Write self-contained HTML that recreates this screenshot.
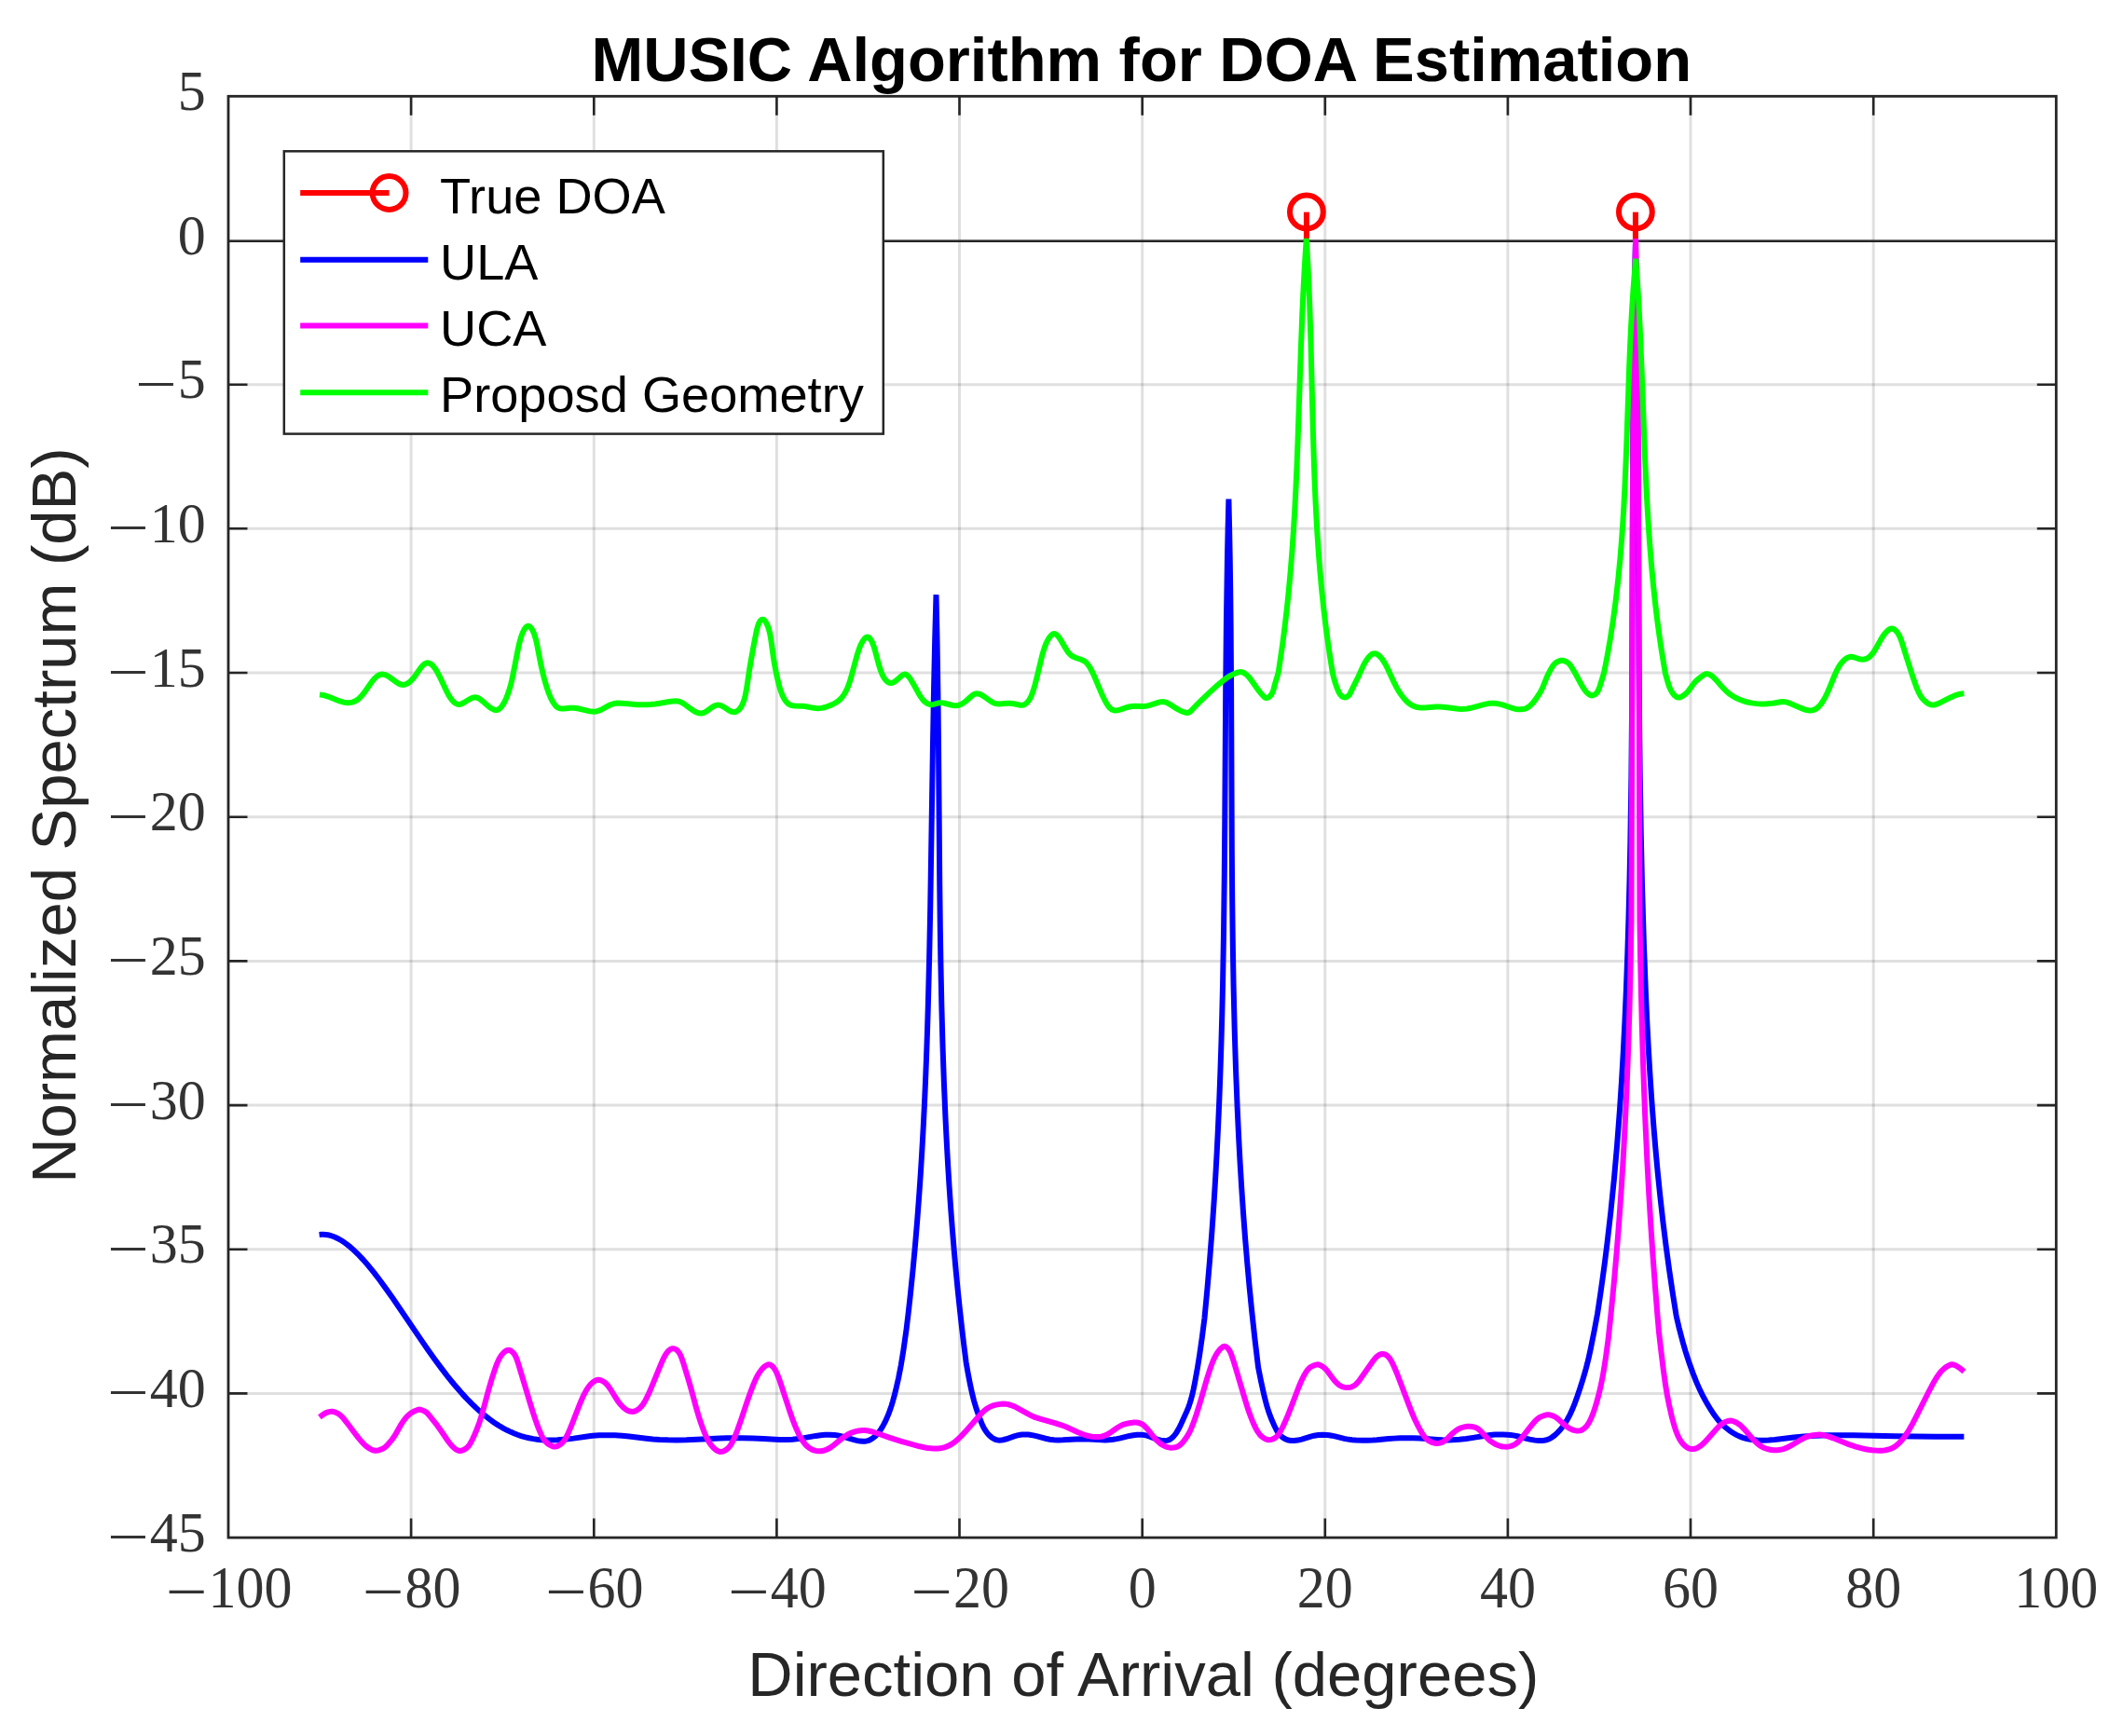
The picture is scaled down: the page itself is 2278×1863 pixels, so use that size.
<!DOCTYPE html>
<html><head><meta charset="utf-8"><title>MUSIC Algorithm for DOA Estimation</title>
<style>
html,body{margin:0;padding:0;background:#fff;}
svg{display:block;}
.sans{font-family:"Liberation Sans",sans-serif;}
.serif{font-family:"Liberation Serif",serif;}
</style></head><body>
<svg width="2278" height="1863" viewBox="0 0 2278 1863">
<rect width="2278" height="1863" fill="#fff"/>
<path d="M441.1,103.3V1650.1M637.3,103.3V1650.1M833.4,103.3V1650.1M1029.5,103.3V1650.1M1225.7,103.3V1650.1M1421.8,103.3V1650.1M1617.9,103.3V1650.1M1814.0,103.3V1650.1M2010.2,103.3V1650.1" stroke="#262626" stroke-opacity="0.14" stroke-width="3" fill="none"/>
<path d="M245.0,1495.4H2206.3M245.0,1340.7H2206.3M245.0,1186.1H2206.3M245.0,1031.4H2206.3M245.0,876.7H2206.3M245.0,722.0H2206.3M245.0,567.3H2206.3M245.0,412.7H2206.3M245.0,258.0H2206.3" stroke="#262626" stroke-opacity="0.14" stroke-width="3" fill="none"/>
<path d="M245.0,258.7H2206.3" stroke="#262626" stroke-width="2.6"/>
<path d="M1401.9,258.7V227.6" stroke="#f00" stroke-width="6.0"/>
<circle cx="1401.9" cy="227.4" r="17.9" stroke="#f00" stroke-width="6.0" fill="none"/>
<path d="M1754.9,258.7V227.6" stroke="#f00" stroke-width="6.0"/>
<circle cx="1754.9" cy="227.4" r="17.9" stroke="#f00" stroke-width="6.0" fill="none"/>
<path d="M342.60,1325.03L344.59,1324.83L347.25,1324.79L349.23,1324.93L351.87,1325.32L354.49,1325.93L357.08,1326.75L359.64,1327.76L362.16,1328.94L364.65,1330.28L367.10,1331.76L369.52,1333.37L372.50,1335.56L375.42,1337.91L378.30,1340.40L383.94,1345.78L389.43,1351.59L395.34,1358.38L401.65,1366.18L407.84,1374.29L414.45,1383.36L421.50,1393.35L451.82,1437.89L459.33,1448.69L465.89,1457.90L473.04,1467.60L480.28,1477.02L487.11,1485.47L494.06,1493.57L498.41,1498.37L502.25,1502.44L506.14,1506.38L510.07,1510.18L514.05,1513.84L517.51,1516.84L521.59,1520.19L525.12,1522.93L529.30,1525.95L532.92,1528.38L536.58,1530.67L540.28,1532.80L544.02,1534.78L547.80,1536.59L551.61,1538.24L555.45,1539.72L559.32,1541.02L563.87,1542.33L567.79,1543.27L572.39,1544.15L576.34,1544.73L580.97,1545.21L585.61,1545.48L590.24,1545.58L598.19,1545.35L607.46,1544.58L615.37,1543.62L633.67,1540.96L636.03,1540.70L642.83,1540.34L651.08,1540.22L659.88,1540.36L667.35,1540.79L675.22,1541.53L693.54,1543.71L700.55,1544.45L707.86,1545.00L716.78,1545.36L726.03,1545.45L736.40,1545.27L747.75,1544.80L772.70,1543.46L779.53,1543.23L787.49,1543.14L796.58,1543.20L807.96,1543.48L819.33,1543.95L836.26,1544.88L840.69,1545.01L845.06,1545.00L850.42,1544.74L856.65,1544.07L862.61,1543.16L875.34,1540.91L880.37,1540.19L885.24,1539.78L890.02,1539.70L895.60,1540.03L898.80,1540.44L901.21,1540.87L906.03,1542.04L915.42,1544.94L919.08,1545.94L922.61,1546.61L926.05,1546.85L928.08,1546.73L930.08,1546.40L932.06,1545.81L933.35,1545.28L935.26,1544.24L937.12,1542.97L938.90,1541.48L940.59,1539.83L942.69,1537.40L944.63,1534.77L946.43,1531.92L948.14,1528.89L950.21,1524.83L951.80,1521.35L953.73,1516.66L955.21,1512.63L956.63,1508.32L958.00,1503.78L959.62,1497.87L961.15,1491.82L964.16,1478.54L966.84,1464.70L969.44,1448.67L972.63,1426.17L974.54,1410.18L976.87,1389.06L979.55,1362.73L981.98,1336.38L984.23,1309.46L986.33,1281.38L987.89,1258.45L989.33,1234.94L990.66,1210.85L991.89,1186.19L993.01,1160.95L994.04,1134.56L995.00,1107.02L995.86,1078.34L997.11,1028.99L998.24,973.33L1001.00,797.72L1002.04,739.19L1003.18,686.97L1004.50,638.20L1005.57,688.72L1006.42,745.07L1007.02,801.43L1008.28,950.41L1008.80,994.46L1009.43,1034.62L1010.37,1079.96L1011.51,1122.05L1012.90,1162.20L1014.55,1201.05L1015.77,1225.65L1017.10,1249.60L1018.54,1272.90L1020.14,1296.19L1021.84,1318.83L1023.70,1341.47L1025.67,1363.45L1027.80,1385.42L1029.83,1404.80L1031.99,1424.17L1034.13,1442.25L1036.64,1462.17L1038.63,1473.49L1040.93,1485.34L1043.02,1495.07L1045.00,1503.00L1047.63,1511.79L1050.87,1521.14L1052.43,1525.17L1054.05,1528.95L1055.29,1531.56L1056.59,1533.96L1057.98,1536.16L1059.50,1538.19L1060.61,1539.44L1062.41,1541.18L1064.32,1542.69L1066.26,1543.92L1068.17,1544.83L1070.04,1545.40L1071.30,1545.60L1072.59,1545.66L1073.95,1545.59L1076.09,1545.27L1079.92,1544.26L1088.16,1541.35L1091.57,1540.34L1095.02,1539.69L1096.74,1539.51L1099.33,1539.40L1103.60,1539.60L1106.15,1539.92L1108.69,1540.36L1113.00,1541.34L1121.92,1543.76L1126.37,1544.71L1130.78,1545.25L1135.38,1545.42L1140.37,1545.28L1154.57,1544.40L1161.14,1544.24L1168.55,1544.40L1182.49,1545.37L1185.48,1545.42L1189.52,1545.28L1194.51,1544.79L1198.35,1544.17L1202.00,1543.35L1209.97,1541.37L1214.53,1540.49L1219.96,1539.85L1222.55,1539.73L1225.04,1539.76L1228.25,1540.10L1231.40,1540.81L1233.77,1541.60L1241.58,1544.65L1245.36,1545.70L1247.58,1546.04L1249.76,1546.12L1251.90,1545.90L1253.29,1545.55L1255.29,1544.71L1256.58,1543.91L1258.41,1542.36L1260.15,1540.45L1261.79,1538.23L1263.84,1534.92L1265.76,1531.30L1267.61,1527.46L1273.52,1514.38L1275.26,1510.07L1276.49,1506.64L1278.00,1501.75L1279.36,1496.54L1280.58,1491.14L1281.96,1484.30L1284.83,1468.53L1287.13,1454.31L1289.88,1434.89L1292.47,1414.55L1295.42,1383.27L1298.02,1352.88L1300.41,1321.83L1302.63,1289.48L1304.29,1262.30L1305.78,1235.11L1307.14,1207.27L1308.37,1178.78L1309.46,1149.65L1310.45,1119.21L1311.32,1087.47L1312.07,1055.09L1313.04,1000.03L1313.80,938.50L1314.29,879.55L1315.22,738.34L1315.93,666.44L1316.98,597.78L1317.63,566.69L1318.40,535.60L1319.11,566.59L1319.72,599.52L1320.21,633.74L1320.61,670.55L1321.09,740.29L1321.81,914.63L1322.20,964.35L1322.74,1008.91L1323.58,1057.98L1324.69,1104.47L1326.06,1148.37L1327.75,1190.97L1329.11,1220.01L1330.64,1248.40L1332.32,1276.14L1334.16,1303.23L1336.15,1329.67L1338.35,1356.10L1340.70,1381.87L1343.27,1407.64L1346.56,1437.90L1350.08,1467.27L1352.98,1481.81L1356.56,1498.05L1359.17,1508.21L1361.48,1515.60L1364.09,1522.56L1367.36,1530.01L1369.91,1535.02L1371.28,1537.26L1372.27,1538.63L1373.88,1540.49L1375.06,1541.58L1376.30,1542.56L1378.26,1543.80L1379.61,1544.48L1381.64,1545.27L1383.68,1545.79L1385.77,1546.07L1388.69,1546.07L1392.60,1545.57L1396.76,1544.58L1405.55,1541.85L1410.05,1540.69L1414.55,1539.98L1419.07,1539.73L1423.60,1539.93L1426.31,1540.25L1429.01,1540.68L1433.46,1541.63L1442.34,1543.83L1445.10,1544.38L1447.96,1544.82L1450.89,1545.16L1454.90,1545.47L1462.17,1545.74L1467.50,1545.72L1472.92,1545.53L1477.29,1545.23L1489.74,1544.08L1495.84,1543.62L1502.23,1543.33L1510.03,1543.19L1516.39,1543.26L1523.61,1543.56L1542.36,1544.96L1547.69,1545.27L1553.02,1545.41L1558.38,1545.30L1565.87,1544.79L1573.30,1543.96L1580.73,1542.89L1593.77,1540.80L1599.07,1540.07L1604.00,1539.61L1608.56,1539.44L1612.96,1539.49L1617.41,1539.69L1621.02,1540.00L1623.75,1540.37L1628.29,1541.29L1637.15,1543.69L1641.35,1544.67L1646.79,1545.64L1650.99,1546.10L1654.51,1546.08L1656.73,1545.81L1658.25,1545.52L1660.52,1544.87L1662.00,1544.29L1663.45,1543.58L1664.87,1542.76L1667.60,1540.80L1670.86,1537.88L1673.98,1534.53L1676.97,1530.78L1679.26,1527.49L1681.98,1523.00L1684.56,1518.11L1687.02,1512.79L1689.82,1505.89L1692.48,1498.57L1695.44,1489.76L1698.62,1479.64L1701.17,1470.91L1703.11,1463.60L1704.88,1456.22L1706.94,1446.76L1710.89,1427.00L1714.14,1409.54L1717.07,1390.03L1719.53,1372.68L1722.03,1354.03L1724.37,1335.38L1728.28,1301.27L1731.86,1265.84L1735.10,1229.11L1737.94,1191.71L1739.98,1160.75L1741.80,1129.13L1743.45,1096.22L1744.94,1061.37L1746.31,1023.93L1747.52,984.55L1748.54,944.52L1749.40,902.55L1750.44,832.82L1751.13,755.33L1752.02,504.79L1752.56,417.61L1752.98,375.64L1753.50,336.25L1754.13,298.80L1754.90,262.00L1755.62,298.25L1756.24,336.34L1756.75,376.28L1757.17,419.29L1757.70,501.02L1758.60,714.23L1759.09,776.91L1759.74,833.44L1760.79,896.72L1762.16,956.32L1763.87,1012.83L1765.94,1066.89L1767.35,1097.59L1768.87,1126.45L1770.51,1154.08L1772.31,1181.09L1774.28,1207.47L1776.38,1232.62L1778.69,1257.76L1781.18,1282.28L1784.26,1309.84L1787.59,1336.77L1791.16,1363.08L1794.96,1388.74L1798.45,1410.74L1798.95,1413.40L1801.65,1425.00L1805.52,1439.77L1808.66,1450.59L1812.19,1461.49L1816.43,1473.37L1820.17,1482.89L1823.64,1490.84L1826.73,1497.14L1830.99,1504.93L1835.90,1513.17L1839.32,1518.36L1842.95,1523.18L1844.88,1525.43L1846.88,1527.57L1848.95,1529.61L1851.10,1531.54L1855.62,1535.13L1857.96,1536.77L1860.35,1538.28L1862.77,1539.66L1865.20,1540.87L1867.64,1541.93L1870.11,1542.83L1874.34,1544.00L1877.00,1544.54L1879.76,1544.95L1885.44,1545.47L1892.07,1545.65L1897.61,1545.50L1904.30,1544.99L1924.88,1542.44L1935.71,1541.40L1947.83,1540.67L1960.60,1540.28L1973.95,1540.15L1988.51,1540.24L2033.72,1541.20L2055.40,1541.51L2076.24,1541.63L2107.40,1541.64" stroke="#0000ff" stroke-width="6.0" fill="none" stroke-linejoin="miter" stroke-miterlimit="2"/>
<path d="M342.95,1520.91L345.72,1518.66L348.34,1516.95L350.60,1515.85L352.95,1515.09L354.16,1514.88L355.38,1514.79L356.60,1514.84L357.82,1515.02L360.22,1515.74L362.48,1516.85L364.02,1517.86L365.46,1519.01L366.84,1520.32L368.66,1522.32L372.01,1526.50L379.50,1536.51L384.39,1542.80L388.17,1547.36L390.85,1550.20L392.56,1551.71L394.24,1552.97L396.39,1554.38L398.14,1555.37L399.86,1556.16L401.11,1556.58L402.37,1556.80L403.66,1556.80L405.02,1556.60L406.91,1556.11L408.88,1555.45L410.87,1554.59L412.31,1553.73L413.24,1553.04L414.57,1551.83L415.85,1550.49L420.45,1545.08L422.99,1541.60L425.12,1538.06L430.11,1529.16L432.63,1525.24L435.34,1521.70L437.06,1519.81L438.24,1518.66L440.07,1517.13L441.31,1516.25L443.19,1515.14L445.57,1514.01L447.99,1513.06L449.09,1512.72L450.20,1512.64L451.59,1512.87L453.86,1513.65L456.22,1514.86L458.27,1516.38L459.94,1518.12L467.76,1527.96L470.19,1531.16L473.30,1535.53L480.03,1545.47L482.07,1548.29L484.17,1550.89L485.89,1552.72L487.64,1554.30L488.96,1555.29L490.29,1556.09L491.63,1556.66L493.00,1556.94L493.93,1556.93L494.88,1556.79L496.30,1556.37L498.62,1555.29L500.42,1554.13L502.16,1552.53L503.83,1550.35L505.45,1547.65L507.03,1544.55L509.33,1539.45L511.55,1534.08L514.39,1526.45L516.72,1519.20L518.92,1511.42L524.09,1491.94L527.94,1478.93L531.62,1467.73L533.03,1463.93L534.53,1460.39L535.73,1457.97L537.02,1455.79L538.40,1453.87L539.84,1452.25L541.26,1450.92L543.03,1449.62L543.83,1449.18L544.59,1448.90L545.75,1448.78L547.03,1449.09L548.44,1449.81L549.88,1450.94L550.81,1451.90L551.68,1453.02L552.87,1454.99L553.59,1456.47L554.59,1458.90L556.72,1465.38L568.90,1506.20L572.17,1516.70L574.56,1523.80L577.02,1530.58L579.16,1536.07L581.02,1540.31L582.65,1543.39L584.01,1545.45L585.51,1547.26L587.16,1548.80L589.46,1550.43L592.15,1551.82L593.50,1552.32L594.31,1552.52L595.13,1552.58L596.00,1552.50L597.51,1552.09L599.21,1551.34L600.98,1550.28L602.14,1549.41L603.26,1548.41L604.80,1546.69L605.74,1545.41L607.05,1543.31L609.04,1539.43L611.65,1533.45L614.22,1527.08L621.86,1507.43L624.45,1501.23L626.36,1497.06L628.81,1492.42L631.06,1488.95L633.56,1485.91L636.19,1483.43L637.74,1482.30L639.22,1481.46L640.65,1480.95L641.61,1480.80L642.59,1480.80L644.16,1481.09L645.83,1481.72L647.55,1482.67L649.26,1483.94L650.38,1484.95L651.45,1486.08L652.99,1487.98L655.42,1491.54L660.14,1499.26L663.05,1503.69L664.54,1505.73L666.07,1507.62L668.69,1510.33L670.29,1511.67L672.46,1513.12L674.08,1513.95L675.69,1514.54L677.32,1514.87L678.97,1514.89L680.09,1514.72L681.81,1514.18L682.96,1513.64L684.66,1512.58L686.29,1511.27L687.33,1510.26L688.79,1508.58L690.16,1506.70L691.47,1504.63L692.73,1502.39L695.20,1497.45L698.07,1491.06L707.91,1467.11L710.58,1460.81L712.39,1456.88L714.25,1453.47L715.47,1451.69L716.34,1450.62L717.27,1449.65L718.25,1448.80L719.27,1448.10L720.32,1447.58L721.39,1447.27L722.47,1447.20L723.55,1447.38L725.14,1448.06L726.16,1448.78L727.59,1450.20L728.47,1451.35L729.65,1453.33L730.38,1454.81L731.38,1457.23L733.53,1463.63L739.30,1482.58L741.86,1491.62L747.07,1510.91L749.62,1519.61L751.62,1525.84L753.34,1530.80L755.47,1536.43L757.31,1540.82L758.87,1544.10L760.55,1547.15L762.38,1549.93L763.86,1551.83L765.91,1554.06L767.97,1555.84L769.93,1557.11L770.87,1557.53L771.82,1557.80L773.28,1557.93L774.33,1557.84L775.44,1557.59L777.18,1556.95L778.93,1555.99L780.63,1554.71L782.19,1553.12L783.61,1551.26L784.91,1549.15L786.13,1546.85L787.67,1543.53L789.52,1539.11L791.32,1534.46L794.82,1524.68L801.24,1505.41L804.36,1496.40L807.95,1486.93L809.76,1482.57L811.23,1479.30L812.81,1476.21L814.54,1473.29L816.52,1470.52L818.18,1468.56L819.95,1466.83L821.76,1465.47L823.56,1464.61L824.73,1464.39L825.85,1464.48L826.92,1464.87L827.94,1465.50L829.38,1466.83L830.27,1467.92L831.51,1469.77L832.65,1471.83L833.71,1474.08L835.70,1479.10L838.34,1486.64L847.45,1514.57L850.54,1523.47L852.70,1529.11L854.57,1533.58L856.90,1538.63L858.91,1542.52L860.60,1545.40L862.40,1548.03L864.36,1550.40L865.96,1551.97L868.25,1553.78L870.69,1555.24L872.58,1556.08L875.15,1556.86L877.75,1557.25L879.05,1557.30L880.99,1557.21L883.55,1556.78L884.81,1556.43L886.70,1555.74L889.21,1554.52L892.33,1552.52L895.44,1550.16L904.06,1543.15L907.19,1540.95L909.75,1539.42L913.05,1537.84L915.06,1537.06L917.10,1536.40L919.17,1535.87L921.24,1535.46L923.32,1535.18L925.40,1535.05L927.47,1535.06L930.21,1535.30L932.95,1535.77L935.72,1536.45L940.73,1538.00L955.45,1543.11L966.46,1546.60L979.09,1550.22L985.17,1551.80L989.39,1552.78L992.71,1553.43L995.98,1553.96L999.19,1554.32L1001.55,1554.47L1004.62,1554.50L1006.84,1554.39L1009.70,1554.04L1011.77,1553.63L1013.80,1553.07L1015.79,1552.37L1017.76,1551.51L1019.72,1550.51L1021.66,1549.36L1023.56,1548.07L1025.43,1546.66L1027.26,1545.11L1031.38,1541.13L1037.10,1534.96L1042.76,1528.62L1049.49,1520.71L1052.32,1517.55L1055.22,1514.69L1058.24,1512.24L1060.13,1510.98L1062.11,1509.89L1063.48,1509.26L1065.62,1508.47L1068.52,1507.66L1071.26,1507.09L1074.15,1506.66L1076.52,1506.49L1079.12,1506.67L1082.25,1507.25L1084.98,1508.02L1087.79,1509.09L1089.90,1510.07L1092.69,1511.53L1104.00,1517.95L1107.17,1519.49L1110.38,1520.81L1116.80,1522.93L1132.60,1527.39L1137.88,1529.03L1140.81,1530.07L1144.50,1531.56L1156.39,1536.92L1161.60,1539.06L1164.63,1540.10L1166.96,1540.76L1169.30,1541.30L1171.65,1541.71L1175.48,1542.08L1179.13,1542.02L1181.22,1541.75L1182.58,1541.47L1185.25,1540.64L1187.22,1539.77L1189.81,1538.32L1192.36,1536.66L1198.00,1532.73L1201.17,1530.76L1204.51,1529.15L1207.37,1528.18L1211.65,1527.24L1216.75,1526.55L1219.13,1526.56L1221.91,1527.02L1223.72,1527.60L1225.55,1528.47L1226.73,1529.23L1228.43,1530.63L1231.12,1533.51L1236.73,1540.71L1239.86,1544.39L1242.60,1547.14L1245.51,1549.48L1247.31,1550.66L1249.13,1551.65L1250.95,1552.45L1252.16,1552.87L1253.35,1553.19L1255.14,1553.52L1256.92,1553.65L1258.71,1553.62L1261.11,1553.27L1262.29,1552.93L1263.46,1552.47L1265.17,1551.51L1266.28,1550.68L1267.35,1549.71L1269.39,1547.50L1272.10,1543.92L1274.37,1540.52L1276.40,1536.88L1278.12,1533.15L1279.91,1528.72L1281.72,1523.79L1283.86,1517.51L1287.84,1504.71L1294.12,1482.95L1296.39,1475.41L1299.07,1467.21L1301.19,1461.52L1302.71,1458.02L1304.32,1454.82L1305.61,1452.64L1307.41,1450.06L1309.22,1447.92L1311.30,1445.95L1312.04,1445.41L1312.76,1445.03L1313.85,1444.83L1314.63,1444.96L1315.90,1445.56L1317.19,1446.63L1318.03,1447.57L1318.83,1448.70L1319.58,1449.99L1320.29,1451.44L1321.30,1453.85L1322.88,1458.39L1325.37,1466.45L1335.36,1500.13L1338.29,1509.59L1340.34,1515.65L1342.10,1520.48L1343.92,1525.09L1345.80,1529.42L1347.37,1532.66L1349.03,1535.64L1350.83,1538.32L1352.31,1540.10L1353.90,1541.65L1356.14,1543.34L1357.82,1544.28L1359.95,1545.06L1361.44,1545.28L1363.37,1545.13L1365.36,1544.56L1367.41,1543.55L1368.95,1542.46L1370.43,1541.05L1371.84,1539.31L1373.61,1536.58L1375.28,1533.50L1377.28,1529.36L1379.61,1524.24L1381.87,1518.97L1385.16,1510.73L1392.28,1491.73L1394.49,1486.29L1396.78,1481.09L1399.18,1476.20L1401.30,1472.51L1402.67,1470.55L1403.62,1469.39L1404.63,1468.37L1405.68,1467.49L1406.78,1466.76L1408.44,1465.91L1410.50,1465.13L1412.87,1464.42L1414.01,1464.38L1414.91,1464.53L1416.48,1465.06L1417.62,1465.59L1419.39,1466.66L1420.56,1467.54L1422.77,1469.67L1424.85,1472.16L1429.84,1478.98L1431.89,1481.56L1434.03,1483.88L1436.28,1485.86L1437.46,1486.69L1438.67,1487.39L1439.91,1487.97L1441.81,1488.62L1443.11,1488.90L1445.07,1489.11L1447.04,1489.05L1448.35,1488.86L1449.65,1488.55L1450.92,1488.10L1452.76,1487.16L1454.51,1485.89L1456.69,1483.73L1458.24,1481.85L1459.75,1479.81L1472.90,1460.99L1474.77,1458.55L1476.20,1456.93L1478.18,1455.14L1479.72,1454.13L1480.76,1453.63L1481.83,1453.29L1483.44,1453.07L1485.06,1453.25L1486.67,1453.81L1488.23,1454.77L1489.24,1455.64L1490.20,1456.67L1491.57,1458.52L1492.88,1460.65L1494.13,1463.00L1496.87,1469.00L1499.84,1476.23L1511.63,1507.41L1515.64,1517.53L1517.53,1521.93L1519.48,1526.15L1521.49,1530.20L1523.96,1534.81L1526.96,1539.78L1528.33,1541.69L1529.79,1543.40L1531.36,1544.88L1533.04,1546.10L1534.80,1547.07L1536.54,1547.83L1538.20,1548.39L1539.72,1548.78L1541.15,1548.99L1542.11,1549.02L1543.64,1548.88L1544.74,1548.65L1547.07,1547.88L1549.46,1546.64L1551.21,1545.41L1553.44,1543.42L1557.81,1539.01L1559.49,1537.45L1562.39,1535.17L1564.78,1533.67L1566.61,1532.75L1567.85,1532.25L1570.90,1531.32L1574.23,1530.76L1577.13,1530.68L1579.73,1530.98L1582.08,1531.54L1584.49,1532.52L1586.26,1533.62L1587.40,1534.53L1589.05,1536.10L1594.40,1542.01L1597.72,1545.20L1599.43,1546.61L1601.18,1547.88L1602.97,1549.01L1604.80,1549.99L1606.67,1550.83L1608.56,1551.51L1610.48,1552.04L1612.41,1552.41L1614.36,1552.62L1616.31,1552.66L1618.26,1552.51L1620.21,1552.17L1622.76,1551.39L1625.24,1550.20L1627.02,1549.02L1629.27,1547.06L1630.89,1545.36L1632.98,1542.88L1641.11,1532.37L1644.71,1527.90L1647.35,1524.92L1649.57,1522.84L1651.93,1521.14L1654.39,1519.90L1657.31,1518.88L1660.08,1518.30L1661.30,1518.25L1662.19,1518.33L1664.31,1518.78L1666.72,1519.63L1668.59,1520.55L1669.80,1521.30L1671.55,1522.61L1677.68,1528.19L1680.53,1530.50L1682.29,1531.72L1684.10,1532.81L1685.97,1533.77L1687.89,1534.56L1689.83,1535.15L1691.77,1535.49L1693.67,1535.54L1694.91,1535.38L1696.12,1535.06L1697.86,1534.32L1698.97,1533.64L1700.57,1532.39L1702.54,1530.27L1704.35,1527.68L1706.02,1524.68L1707.60,1521.31L1709.45,1516.63L1711.20,1511.55L1712.84,1506.21L1714.66,1499.63L1716.32,1493.06L1717.60,1487.50L1719.05,1480.50L1720.22,1474.19L1721.62,1465.83L1722.98,1456.88L1725.64,1437.27L1728.93,1406.27L1732.01,1374.21L1734.81,1342.14L1737.40,1308.95L1739.75,1275.20L1741.86,1240.89L1743.74,1206.01L1745.41,1170.02L1747.06,1127.38L1748.43,1083.63L1749.56,1037.10L1750.44,988.91L1752.06,503.62L1752.31,451.54L1752.74,398.92L1753.34,349.06L1754.12,301.98L1755.10,256.00L1755.98,300.06L1756.69,346.00L1757.24,394.47L1757.63,446.08L1757.86,495.18L1759.51,988.03L1760.11,1025.16L1760.90,1063.55L1761.81,1100.05L1762.87,1135.29L1764.17,1172.42L1765.66,1208.91L1767.31,1244.14L1769.15,1278.74L1771.18,1312.70L1773.40,1346.02L1775.81,1378.71L1778.46,1411.40L1779.93,1428.51L1781.15,1439.67L1784.45,1467.25L1786.80,1484.54L1788.75,1496.37L1791.07,1508.15L1793.76,1519.94L1796.30,1529.50L1798.34,1535.82L1800.26,1540.55L1801.54,1543.18L1802.47,1544.84L1804.49,1547.91L1806.14,1549.93L1807.30,1551.12L1808.51,1552.17L1809.76,1553.07L1811.05,1553.82L1812.37,1554.40L1813.71,1554.81L1815.06,1555.04L1817.08,1555.04L1818.43,1554.81L1819.77,1554.42L1821.78,1553.54L1824.42,1551.87L1827.02,1549.73L1830.18,1546.64L1833.23,1543.31L1841.58,1533.68L1844.05,1531.13L1845.95,1529.41L1848.58,1527.47L1851.23,1526.00L1852.52,1525.46L1854.34,1524.89L1855.48,1524.68L1856.57,1524.61L1857.66,1524.68L1858.79,1524.88L1860.62,1525.45L1861.91,1526.00L1864.57,1527.46L1867.17,1529.37L1869.05,1531.06L1871.51,1533.58L1879.00,1542.28L1882.26,1545.87L1884.92,1548.47L1887.65,1550.73L1890.53,1552.62L1892.83,1553.78L1896.10,1554.95L1899.34,1555.74L1903.43,1556.33L1906.12,1556.35L1910.05,1555.80L1914.09,1554.79L1916.62,1553.89L1919.96,1552.34L1923.25,1550.48L1932.27,1545.00L1935.60,1543.25L1938.12,1542.14L1940.67,1541.26L1944.06,1540.46L1947.96,1539.91L1952.13,1539.62L1954.37,1539.76L1956.40,1540.10L1959.51,1540.82L1962.86,1541.82L1967.06,1543.33L1977.41,1547.58L1983.94,1550.06L1991.54,1552.60L1998.16,1554.41L2001.98,1555.22L2004.90,1555.71L2008.78,1556.18L2012.38,1556.50L2016.62,1556.77L2018.74,1556.81L2021.12,1556.62L2023.31,1556.27L2026.55,1555.49L2029.03,1554.63L2031.39,1553.52L2032.88,1552.64L2034.32,1551.65L2037.04,1549.36L2039.64,1546.71L2042.15,1543.71L2044.59,1540.43L2046.37,1537.79L2048.67,1534.09L2052.55,1527.20L2056.29,1519.97L2070.04,1492.52L2074.92,1483.36L2077.65,1478.78L2079.87,1475.49L2082.17,1472.55L2083.98,1470.58L2086.53,1468.29L2087.84,1467.30L2089.77,1466.05L2090.97,1465.38L2092.60,1464.67L2094.02,1464.31L2094.96,1464.30L2095.95,1464.46L2097.63,1465.04L2098.83,1465.61L2100.69,1466.69L2102.57,1467.94L2104.36,1469.28L2107.40,1471.93" stroke="#ff00ff" stroke-width="6.0" fill="none" stroke-linejoin="miter" stroke-miterlimit="2"/>
<path d="M342.95,745.53L346.05,745.86L347.62,746.19L350.01,746.85L354.04,748.29L363.80,752.19L366.22,752.99L368.61,753.64L370.98,754.07L373.30,754.24L375.58,754.11L377.82,753.67L379.28,753.19L380.72,752.57L382.82,751.38L384.88,749.86L386.87,748.01L388.80,745.85L390.67,743.46L397.84,733.17L400.18,730.08L401.95,728.08L403.13,726.92L404.92,725.48L406.13,724.73L407.96,723.96L409.84,723.63L411.12,723.67L413.07,724.13L415.05,724.96L417.71,726.52L424.90,731.79L426.81,733.05L428.08,733.76L429.98,734.54L431.26,734.84L432.55,734.93L434.49,734.64L436.44,733.88L438.36,732.72L440.22,731.24L442.01,729.50L443.69,727.56L445.26,725.50L451.00,717.21L452.44,715.42L453.93,713.87L455.46,712.63L457.03,711.78L458.61,711.37L459.66,711.40L461.23,711.89L462.27,712.50L463.31,713.32L464.34,714.32L465.36,715.50L467.37,718.28L469.34,721.53L471.73,726.02L479.08,741.57L481.75,746.67L483.32,749.16L484.99,751.37L486.82,753.29L488.30,754.48L489.87,755.35L490.96,755.72L492.67,755.89L493.84,755.72L495.03,755.35L496.85,754.52L502.99,750.77L505.96,749.25L507.68,748.65L508.80,748.42L509.90,748.35L510.97,748.45L512.03,748.72L513.08,749.16L515.25,750.48L517.59,752.35L523.82,757.78L526.06,759.48L527.56,760.45L529.77,761.52L531.20,761.92L532.57,762.01L533.87,761.77L535.10,761.21L536.83,759.86L537.90,758.68L539.40,756.59L540.77,754.24L542.03,751.75L543.55,748.38L544.92,744.93L547.02,738.50L548.11,734.50L549.14,730.19L550.90,721.89L555.76,696.96L557.22,690.44L558.50,685.63L559.59,682.18L560.47,679.83L561.40,677.68L562.41,675.74L563.48,674.06L564.62,672.77L565.81,671.99L566.63,671.81L567.46,671.95L568.30,672.40L569.14,673.11L570.38,674.66L571.18,675.96L572.32,678.26L573.02,679.99L574.00,682.83L575.17,687.02L576.22,691.56L580.20,712.30L582.50,722.66L583.87,728.08L585.32,733.24L586.83,738.12L588.42,742.72L589.75,746.16L591.15,749.36L592.62,752.27L593.79,754.26L595.01,756.06L596.32,757.62L597.74,758.90L599.31,759.85L601.05,760.41L602.98,760.58L605.11,760.46L611.59,759.72L614.28,759.64L616.15,759.75L618.07,759.99L621.00,760.54L629.82,762.69L632.62,763.27L635.27,763.61L637.74,763.65L639.28,763.49L640.76,763.21L643.52,762.33L646.12,761.13L651.74,757.95L654.37,756.62L657.23,755.54L658.78,755.13L660.43,754.84L663.09,754.62L666.93,754.64L671.01,754.92L683.81,756.16L689.00,756.36L694.08,756.28L698.07,756.03L703.03,755.50L707.98,754.76L719.44,752.79L722.81,752.42L725.10,752.35L727.15,752.49L728.40,752.71L730.18,753.27L731.93,754.09L734.37,755.61L740.97,760.57L744.23,762.79L745.89,763.74L747.54,764.54L749.97,765.34L751.54,765.55L752.30,765.54L753.79,765.32L755.22,764.85L756.61,764.20L757.96,763.40L763.01,759.67L765.41,758.11L767.16,757.26L768.32,756.87L769.47,756.62L770.61,756.53L771.74,756.62L772.86,756.88L775.11,757.83L776.79,758.81L781.91,762.18L784.22,763.40L785.38,763.82L786.53,764.09L788.25,764.12L789.39,763.85L791.06,763.04L792.67,761.77L794.19,760.07L795.58,757.99L796.42,756.40L797.55,753.74L798.54,750.79L799.67,746.45L800.63,741.72L801.68,735.36L804.09,719.00L805.92,707.93L809.02,690.94L811.87,676.75L813.21,671.66L813.96,669.54L814.80,667.74L815.73,666.27L816.42,665.52L817.50,664.82L818.26,664.69L819.04,664.86L819.83,665.35L820.62,666.12L821.78,667.74L822.53,669.08L823.59,671.42L824.54,674.05L825.37,676.87L826.30,680.89L827.08,685.16L829.99,706.20L830.96,712.20L832.26,719.26L833.66,726.03L835.15,732.34L836.70,738.06L838.07,742.35L839.27,745.48L840.58,748.33L842.02,750.91L843.65,753.16L844.55,754.14L845.52,755.01L847.11,756.07L848.89,756.81L850.87,757.24L853.01,757.45L859.30,757.64L861.78,757.83L865.13,758.33L871.89,759.59L875.26,760.03L877.76,760.13L881.05,759.89L883.46,759.45L886.58,758.60L889.54,757.55L892.33,756.39L894.90,755.16L897.30,753.81L899.53,752.24L901.11,750.87L902.12,749.84L903.59,748.15L905.87,744.90L907.95,741.17L909.10,738.73L910.16,736.15L911.79,731.56L913.27,726.68L917.72,709.91L919.78,702.62L921.63,696.91L923.23,692.76L924.89,689.37L925.90,687.70L926.92,686.31L927.93,685.17L928.93,684.29L929.93,683.71L930.61,683.55L931.30,683.62L932.00,683.92L932.71,684.45L933.43,685.19L934.83,687.21L936.13,689.82L937.32,692.90L938.43,696.35L942.87,713.02L944.96,719.68L946.32,723.15L947.45,725.52L949.12,728.31L950.50,730.06L951.47,731.03L952.46,731.84L953.98,732.68L955.52,733.05L957.06,732.92L958.61,732.34L960.71,731.00L962.31,729.68L966.73,725.74L967.82,724.91L968.89,724.25L969.92,723.80L970.92,723.62L971.87,723.72L972.78,724.11L973.67,724.73L974.97,726.07L977.14,729.11L979.85,733.64L986.15,744.98L987.84,747.72L989.09,749.54L990.81,751.65L992.16,752.99L994.11,754.45L995.68,755.28L996.76,755.69L997.86,755.98L998.98,756.13L1000.11,756.13L1001.81,755.87L1007.10,754.43L1008.36,754.25L1010.33,754.23L1011.67,754.37L1013.73,754.74L1020.37,756.48L1022.81,756.98L1024.56,757.18L1025.72,757.20L1028.00,756.93L1029.14,756.63L1030.85,755.97L1032.55,755.09L1034.24,754.01L1037.03,751.83L1042.29,747.16L1044.60,745.44L1046.32,744.63L1047.18,744.42L1048.08,744.34L1049.02,744.41L1050.54,744.74L1052.14,745.34L1053.80,746.15L1056.59,747.88L1062.01,751.87L1064.08,753.25L1066.11,754.32L1068.22,755.04L1069.92,755.35L1072.45,755.43L1080.42,754.79L1084.01,754.76L1086.05,754.95L1087.99,755.25L1094.74,756.69L1096.71,756.79L1098.15,756.54L1099.10,756.18L1100.49,755.35L1101.40,754.63L1102.70,753.31L1103.52,752.29L1104.67,750.57L1105.73,748.63L1106.71,746.50L1108.47,741.74L1110.61,734.55L1112.87,725.70L1117.97,704.42L1119.53,698.80L1121.25,693.63L1122.51,690.50L1123.51,688.35L1124.92,685.78L1126.03,684.09L1127.56,682.20L1128.75,681.09L1129.95,680.34L1131.17,680.04L1131.98,680.13L1133.20,680.73L1134.42,681.78L1135.65,683.20L1136.87,684.89L1138.50,687.41L1143.62,696.16L1145.11,698.54L1146.62,700.62L1148.26,702.41L1150.15,703.88L1152.32,705.06L1154.67,706.01L1160.47,708.02L1162.57,708.97L1164.06,709.89L1165.01,710.64L1165.93,711.51L1167.26,713.04L1168.52,714.80L1169.74,716.76L1172.39,721.85L1174.88,727.36L1182.12,744.65L1184.29,749.29L1186.50,753.51L1188.77,757.15L1190.75,759.58L1191.99,760.73L1192.85,761.34L1193.74,761.84L1194.68,762.21L1196.20,762.51L1197.31,762.54L1199.78,762.18L1202.54,761.40L1209.75,758.97L1211.77,758.46L1214.33,758.03L1218.05,757.78L1226.96,757.89L1228.87,757.75L1230.76,757.47L1232.64,757.07L1235.14,756.38L1243.45,753.67L1245.94,753.17L1247.72,753.07L1248.85,753.17L1250.49,753.54L1251.55,753.91L1253.13,754.63L1255.77,756.17L1262.82,760.66L1265.55,762.15L1268.39,763.47L1270.48,764.23L1272.44,764.73L1274.16,764.87L1275.15,764.74L1276.41,764.20L1277.55,763.28L1285.58,754.97L1297.04,743.85L1305.03,736.52L1311.51,731.08L1316.64,727.30L1319.16,725.69L1321.62,724.31L1323.98,723.17L1326.72,722.08L1328.67,721.46L1330.46,721.13L1331.34,721.12L1332.23,721.23L1334.09,721.86L1336.00,722.96L1337.86,724.40L1339.56,726.09L1341.15,727.97L1350.61,741.16L1352.99,744.14L1355.50,746.96L1356.89,748.21L1358.04,748.80L1358.45,748.89L1359.30,748.90L1360.63,748.51L1361.92,747.74L1363.46,746.30L1364.68,744.55L1365.63,742.57L1366.55,739.87L1368.43,732.61L1371.05,724.17L1371.80,721.12L1375.95,692.82L1377.63,680.14L1379.26,666.94L1380.82,653.22L1382.26,639.50L1383.63,625.26L1384.93,610.51L1386.52,590.15L1387.95,569.28L1389.26,547.38L1390.46,523.96L1391.48,501.03L1392.47,475.56L1395.75,378.24L1397.31,337.48L1398.30,315.58L1399.38,294.70L1400.51,275.35L1401.80,256.00L1403.62,288.50L1405.14,324.27L1406.46,365.89L1408.67,455.00L1409.82,494.03L1410.59,515.49L1411.42,535.00L1412.36,553.85L1413.37,571.40L1414.85,593.49L1416.49,614.28L1418.34,634.40L1420.46,654.52L1422.87,674.61L1425.52,694.04L1427.46,706.97L1429.57,720.15L1430.12,723.09L1430.79,726.03L1432.41,731.86L1434.07,736.77L1436.07,741.79L1436.94,743.60L1437.60,744.69L1438.34,745.70L1439.20,746.61L1440.17,747.40L1441.22,748.00L1442.33,748.34L1442.90,748.40L1444.05,748.27L1445.17,747.85L1446.22,747.19L1447.15,746.36L1447.94,745.40L1448.60,744.33L1451.41,738.37L1457.58,726.06L1462.72,714.53L1464.46,711.28L1465.95,708.87L1467.56,706.60L1468.68,705.22L1470.37,703.44L1471.50,702.49L1472.63,701.78L1473.79,701.35L1474.97,701.22L1476.19,701.43L1476.81,701.67L1478.06,702.35L1479.32,703.28L1480.55,704.42L1482.88,707.10L1484.99,710.18L1486.48,712.72L1488.40,716.43L1495.23,731.26L1498.35,737.44L1500.52,741.19L1502.19,743.81L1504.50,747.05L1506.29,749.30L1508.77,752.04L1510.72,753.87L1512.77,755.47L1514.94,756.83L1517.25,757.92L1519.75,758.73L1522.47,759.25L1524.43,759.43L1528.70,759.42L1540.49,758.56L1545.20,758.51L1550.81,758.91L1561.02,760.32L1564.74,760.74L1568.33,760.93L1570.98,760.87L1574.52,760.48L1578.11,759.78L1591.05,756.36L1595.23,755.38L1598.80,754.83L1601.54,754.71L1603.73,754.79L1606.08,755.02L1610.29,755.81L1613.85,756.85L1622.73,759.97L1625.15,760.63L1626.69,760.94L1628.92,761.23L1631.87,761.30L1634.11,761.09L1636.37,760.57L1637.87,760.00L1639.36,759.21L1640.82,758.18L1642.97,756.23L1644.35,754.73L1646.34,752.30L1648.77,748.95L1650.91,745.77L1653.21,741.96L1654.81,738.82L1656.26,735.44L1659.33,727.54L1661.16,723.51L1664.31,717.72L1665.53,715.71L1666.81,713.87L1667.72,712.76L1668.70,711.79L1670.30,710.61L1672.47,709.52L1673.97,709.04L1674.89,708.87L1676.35,708.86L1677.46,709.04L1678.70,709.37L1679.99,709.86L1681.28,710.51L1682.49,711.31L1683.57,712.27L1684.53,713.36L1686.23,715.82L1690.66,723.30L1696.93,734.99L1698.96,738.43L1700.25,740.31L1701.61,741.99L1703.02,743.46L1704.40,744.68L1706.05,745.88L1707.27,746.35L1708.20,746.38L1709.80,746.00L1711.42,745.20L1712.81,744.09L1713.90,742.73L1714.82,741.09L1715.64,739.18L1716.70,736.22L1721.07,722.25L1724.53,704.50L1727.47,687.71L1730.78,666.37L1733.64,644.99L1736.23,622.30L1738.47,598.93L1739.95,580.75L1741.27,561.90L1742.44,542.40L1743.53,520.95L1745.14,481.93L1748.25,392.18L1749.19,369.43L1750.17,349.27L1751.23,330.42L1752.41,312.22L1753.74,294.68L1755.20,277.80L1756.46,295.33L1757.66,314.08L1758.74,333.43L1759.78,354.60L1761.40,393.33L1764.73,483.49L1765.71,506.48L1766.72,527.65L1767.84,548.22L1769.04,567.57L1770.37,586.31L1771.78,603.84L1773.07,618.33L1774.44,632.22L1775.93,646.10L1777.49,659.38L1779.19,672.64L1781.02,685.89L1782.91,698.53L1784.93,711.10L1786.89,722.47L1789.78,732.78L1791.03,736.60L1792.13,739.32L1793.44,741.85L1794.98,744.18L1796.24,745.72L1797.56,747.02L1798.92,748.00L1799.87,748.41L1800.88,748.60L1801.96,748.52L1803.08,748.19L1804.80,747.37L1806.46,746.31L1807.95,745.20L1810.17,743.15L1811.92,741.05L1817.43,733.54L1819.07,731.67L1820.75,730.06L1823.59,727.72L1828.10,724.35L1829.24,723.72L1830.40,723.30L1831.60,723.15L1832.21,723.19L1833.46,723.48L1835.39,724.40L1836.68,725.27L1838.62,726.88L1841.77,730.12L1847.29,736.58L1849.76,739.27L1852.93,742.30L1855.61,744.48L1858.48,746.48L1862.36,748.73L1865.62,750.32L1869.78,751.98L1873.96,753.26L1878.98,754.35L1884.85,755.13L1889.93,755.42L1894.22,755.39L1898.53,755.11L1903.56,754.47L1910.53,753.20L1912.75,753.02L1914.97,753.14L1917.19,753.61L1919.42,754.34L1932.56,759.91L1935.55,761.06L1937.80,761.79L1940.06,762.30L1941.54,762.47L1943.00,762.47L1945.15,762.11L1946.54,761.64L1947.89,761.00L1949.21,760.19L1951.10,758.67L1952.31,757.46L1953.47,756.12L1954.59,754.66L1956.18,752.28L1958.64,747.93L1960.88,743.30L1963.35,737.54L1968.50,724.79L1971.04,719.23L1972.88,715.85L1974.36,713.54L1975.91,711.45L1977.51,709.61L1979.72,707.55L1981.39,706.32L1983.09,705.42L1984.84,704.89L1986.05,704.79L1987.92,704.99L1989.86,705.52L1995.12,707.25L1997.09,707.63L1998.39,707.73L2000.34,707.60L2001.63,707.28L2002.90,706.79L2004.75,705.75L2005.95,704.86L2007.65,703.25L2008.72,702.02L2010.24,699.97L2012.62,696.14L2018.61,685.51L2020.53,682.51L2022.04,680.45L2024.09,678.07L2026.12,676.21L2028.02,674.96L2028.92,674.62L2029.83,674.49L2030.77,674.62L2031.77,675.01L2032.82,675.65L2034.42,677.05L2035.46,678.24L2036.45,679.60L2037.37,681.11L2038.62,683.61L2039.73,686.34L2041.07,690.25L2045.82,705.66L2052.13,725.43L2054.39,732.08L2056.71,738.33L2058.74,743.07L2060.07,745.64L2061.01,747.23L2062.02,748.70L2063.09,750.05L2065.40,752.38L2066.58,753.36L2068.34,754.60L2070.00,755.57L2071.03,756.06L2072.04,756.41L2073.08,756.60L2074.20,756.62L2075.43,756.45L2077.48,755.89L2080.49,754.68L2083.67,753.16L2092.46,748.63L2097.33,746.49L2099.79,745.63L2102.29,744.96L2104.83,744.52L2107.40,744.35" stroke="#00ff00" stroke-width="6.0" fill="none" stroke-linejoin="miter" stroke-miterlimit="2"/>
<path d="M441.1,1650.1v-20.5M441.1,103.3v20.5M637.3,1650.1v-20.5M637.3,103.3v20.5M833.4,1650.1v-20.5M833.4,103.3v20.5M1029.5,1650.1v-20.5M1029.5,103.3v20.5M1225.7,1650.1v-20.5M1225.7,103.3v20.5M1421.8,1650.1v-20.5M1421.8,103.3v20.5M1617.9,1650.1v-20.5M1617.9,103.3v20.5M1814.0,1650.1v-20.5M1814.0,103.3v20.5M2010.2,1650.1v-20.5M2010.2,103.3v20.5M245.0,1495.4h20.5M2206.3,1495.4h-20.5M245.0,1340.7h20.5M2206.3,1340.7h-20.5M245.0,1186.1h20.5M2206.3,1186.1h-20.5M245.0,1031.4h20.5M2206.3,1031.4h-20.5M245.0,876.7h20.5M2206.3,876.7h-20.5M245.0,722.0h20.5M2206.3,722.0h-20.5M245.0,567.3h20.5M2206.3,567.3h-20.5M245.0,412.7h20.5M2206.3,412.7h-20.5" stroke="#262626" stroke-width="2.6" fill="none"/>
<rect x="245.0" y="103.3" width="1961.3" height="1546.8" stroke="#262626" stroke-width="2.8" fill="none"/>
<text class="serif" font-size="60" fill="#333" transform="translate(177.7,1725.0) scale(1,1.04)"><tspan dy="3.96" textLength="44.84" lengthAdjust="spacingAndGlyphs">−</tspan><tspan dx="0.86" dy="-3.96">100</tspan></text>
<text class="serif" font-size="60" fill="#333" transform="translate(388.8,1725.0) scale(1,1.04)"><tspan dy="3.96" textLength="44.84" lengthAdjust="spacingAndGlyphs">−</tspan><tspan dx="0.86" dy="-3.96">80</tspan></text>
<text class="serif" font-size="60" fill="#333" transform="translate(584.9,1725.0) scale(1,1.04)"><tspan dy="3.96" textLength="44.84" lengthAdjust="spacingAndGlyphs">−</tspan><tspan dx="0.86" dy="-3.96">60</tspan></text>
<text class="serif" font-size="60" fill="#333" transform="translate(781.0,1725.0) scale(1,1.04)"><tspan dy="3.96" textLength="44.84" lengthAdjust="spacingAndGlyphs">−</tspan><tspan dx="0.86" dy="-3.96">40</tspan></text>
<text class="serif" font-size="60" fill="#333" transform="translate(977.2,1725.0) scale(1,1.04)"><tspan dy="3.96" textLength="44.84" lengthAdjust="spacingAndGlyphs">−</tspan><tspan dx="0.86" dy="-3.96">20</tspan></text>
<text class="serif" font-size="60" fill="#333" transform="translate(1210.7,1725.0) scale(1,1.04)">0</text>
<text class="serif" font-size="60" fill="#333" transform="translate(1391.8,1725.0) scale(1,1.04)">20</text>
<text class="serif" font-size="60" fill="#333" transform="translate(1587.9,1725.0) scale(1,1.04)">40</text>
<text class="serif" font-size="60" fill="#333" transform="translate(1784.0,1725.0) scale(1,1.04)">60</text>
<text class="serif" font-size="60" fill="#333" transform="translate(1980.2,1725.0) scale(1,1.04)">80</text>
<text class="serif" font-size="60" fill="#333" transform="translate(2161.3,1725.0) scale(1,1.04)">100</text>
<text class="serif" font-size="60" fill="#333" transform="translate(115.1,1664.7) scale(1,1.02)"><tspan dy="5.21" textLength="44.84" lengthAdjust="spacingAndGlyphs">−</tspan><tspan dx="0.86" dy="-5.21">45</tspan></text>
<text class="serif" font-size="60" fill="#333" transform="translate(115.1,1510.0) scale(1,1.02)"><tspan dy="5.21" textLength="44.84" lengthAdjust="spacingAndGlyphs">−</tspan><tspan dx="0.86" dy="-5.21">40</tspan></text>
<text class="serif" font-size="60" fill="#333" transform="translate(115.1,1355.3) scale(1,1.02)"><tspan dy="5.21" textLength="44.84" lengthAdjust="spacingAndGlyphs">−</tspan><tspan dx="0.86" dy="-5.21">35</tspan></text>
<text class="serif" font-size="60" fill="#333" transform="translate(115.1,1200.7) scale(1,1.02)"><tspan dy="5.21" textLength="44.84" lengthAdjust="spacingAndGlyphs">−</tspan><tspan dx="0.86" dy="-5.21">30</tspan></text>
<text class="serif" font-size="60" fill="#333" transform="translate(115.1,1046.0) scale(1,1.02)"><tspan dy="5.21" textLength="44.84" lengthAdjust="spacingAndGlyphs">−</tspan><tspan dx="0.86" dy="-5.21">25</tspan></text>
<text class="serif" font-size="60" fill="#333" transform="translate(115.1,891.3) scale(1,1.02)"><tspan dy="5.21" textLength="44.84" lengthAdjust="spacingAndGlyphs">−</tspan><tspan dx="0.86" dy="-5.21">20</tspan></text>
<text class="serif" font-size="60" fill="#333" transform="translate(115.1,736.6) scale(1,1.02)"><tspan dy="5.21" textLength="44.84" lengthAdjust="spacingAndGlyphs">−</tspan><tspan dx="0.86" dy="-5.21">15</tspan></text>
<text class="serif" font-size="60" fill="#333" transform="translate(115.1,581.9) scale(1,1.02)"><tspan dy="5.21" textLength="44.84" lengthAdjust="spacingAndGlyphs">−</tspan><tspan dx="0.86" dy="-5.21">10</tspan></text>
<text class="serif" font-size="60" fill="#333" transform="translate(145.1,427.3) scale(1,1.02)"><tspan dy="5.21" textLength="44.84" lengthAdjust="spacingAndGlyphs">−</tspan><tspan dx="0.86" dy="-5.21">5</tspan></text>
<text class="serif" font-size="60" fill="#333" transform="translate(190.8,272.6) scale(1,1.02)">0</text>
<text class="serif" font-size="60" fill="#333" transform="translate(190.8,117.9) scale(1,1.02)">5</text>
<text class="sans" font-size="66.9" font-weight="bold" fill="#000" x="1224.8" y="86.6" text-anchor="middle">MUSIC Algorithm for DOA Estimation</text>
<text class="sans" font-size="67" fill="#262626" x="1226.75" y="1820.3" text-anchor="middle">Direction of Arrival (degrees)</text>
<text class="sans" font-size="67" fill="#262626" transform="translate(81,875.2) rotate(-90)" text-anchor="middle">Normalized Spectrum (dB)</text>
<rect x="304.8" y="162.3" width="643" height="303.3" fill="#fff" stroke="#262626" stroke-width="2.5"/>
<path d="M322.2,207H417.6" stroke="#f00" stroke-width="6.0"/><circle cx="417.6" cy="207" r="17.9" stroke="#f00" stroke-width="6.0" fill="none"/>
<path d="M322.2,278.8H459.3" stroke="#0000ff" stroke-width="6.0"/>
<path d="M322.2,349.5H459.3" stroke="#ff00ff" stroke-width="6.0"/>
<path d="M322.2,421.3H459.3" stroke="#00ff00" stroke-width="6.0"/>
<text class="sans" font-size="54.2" fill="#000" x="472" y="228.5">True DOA</text>
<text class="sans" font-size="54.2" fill="#000" x="472" y="299.9">ULA</text>
<text class="sans" font-size="54.2" fill="#000" x="472" y="371">UCA</text>
<text class="sans" font-size="54.2" fill="#000" x="472" y="442.1">Proposd Geometry</text>
</svg></body></html>
